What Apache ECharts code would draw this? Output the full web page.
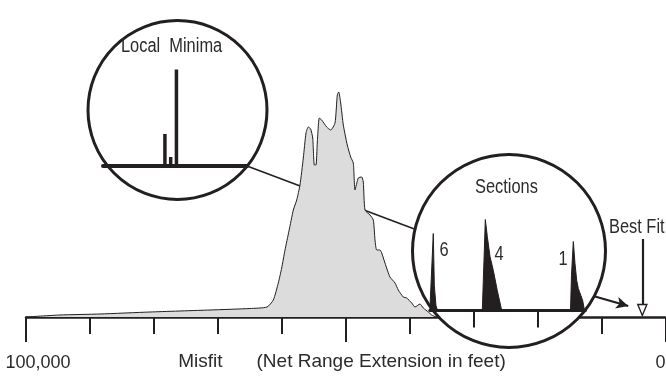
<!DOCTYPE html>
<html>
<head>
<meta charset="utf-8">
<script src="https://cdn.jsdelivr.net/npm/echarts@6/dist/echarts.min.js"></script>
<style>
  html, body { margin: 0; padding: 0; background: #fff; }
  #chart { width: 666px; height: 377px; }
</style>
</head>
<body>
<div id="chart"></div>
<script>
// main misfit distribution (misfit in feet, relative count)
const misfit = [100000, 94690, 88440, 80630, 71250, 65000, 62340, 61360, 60580, 60050, 59530,
  58910, 58230, 57700, 57190, 56670, 56250, 55890, 55520, 55200, 54950, 54690, 54480, 54170,
  53800, 53020, 52390, 51720, 51360, 51140, 50830, 50420, 49800, 49270, 48860, 48590, 48080,
  47550, 47300, 47030, 46250, 45730, 45470, 45200, 44690, 44420, 43910, 43130, 42340, 41830,
  41050, 40520, 39730, 39220, 38440, 37920, 37140, 36610, 35940];
const count = [0, 2, 3, 5, 7, 8.5, 10, 17, 34, 49, 67,
  86, 107, 117, 132, 159, 184, 190, 188, 179, 152, 152, 175, 199,
  197, 190, 187, 194, 222, 225, 214, 192, 172, 160, 154, 127, 139,
  140, 135, 107, 102, 97, 77, 67, 67, 64, 54, 40, 34, 27,
  20, 19, 14, 10, 13, 9, 5, 2, 0];

// "Local Minima" inset
const minimaPos = [43, 47, 51];
const minimaDepth = [31.5, 8.5, 96];

// "Sections" inset
const sectionMisfit = [36900, 36640, 36360, 36200, 35940, 35700,
  28700, 28440, 28230, 27920, 27500, 26980, 26360, 25670,
  14920, 14770, 14480, 14220, 13950, 13700, 13440, 13020, 12730, 12600];
const sectionCount = [0, 0, 77, 25, 5, 0,
  0, 50, 91, 74, 54, 40, 20, 0,
  0, 35, 69, 47, 30, 22, 20, 10, 0, 0];
const sectionTicks = [30000, 20000];

const bestFit = 3700;
const axisLabels = { 100000: '{l|100,000}', 0: '{r|0}' };

const INK = '#231f20';
const TXT = '#2b2b2b';
const FONT = '"Liberation Sans", Arial, sans-serif';

const chart = echarts.init(document.getElementById('chart'), null, { renderer: 'canvas' });

// narrow lettering: Liberation Sans squeezed to Arial Narrow proportions
const text = (x, y, s) => ({
  type: 'text', z: 12, x, y, scaleX: 0.82,
  style: { text: s, fill: TXT, font: '20px ' + FONT, textAlign: 'left', textVerticalAlign: 'middle' },
});

chart.setOption({
  animation: false,
  grid: [
    { left: 26, right: 0, top: 17, bottom: 60, outerBoundsMode: 'none' },
    { left: 103, right: 419, top: 65.5, bottom: 211.5, outerBoundsMode: 'none' },
    { left: 429.84, right: 80.64, top: 210.5, bottom: 66.5, outerBoundsMode: 'none' },
  ],
  xAxis: [
    {
      type: 'value', gridIndex: 0, min: 0, max: 100000, interval: 50000, inverse: true,
      axisLine: { lineStyle: { color: INK, width: 2.5 } },
      axisTick: { length: 25, lineStyle: { color: INK, width: 2 } },
      minorTick: { show: true, splitNumber: 5, length: 17, lineStyle: { color: INK, width: 2 } },
      splitLine: { show: false },
      axisLabel: {
        margin: 37, color: TXT, fontFamily: FONT, fontSize: 18,
        formatter: (v) => axisLabels[v] || '',
        rich: {
          l: { fontFamily: FONT, fontSize: 18, color: TXT, lineHeight: 18, padding: [0, 0, 0, 24] },
          r: { fontFamily: FONT, fontSize: 18, color: TXT, lineHeight: 18, padding: [0, 11, 0, 0] },
        },
      },
      name: '{a|Misfit}{b|(Net Range Extension in feet)}',
      nameLocation: 'middle',
      nameGap: 35,
      nameMoveOverlap: false,
      nameTextStyle: {
        rich: {
          a: { fontFamily: FONT, fontSize: 19, color: TXT, lineHeight: 20 },
          b: { fontFamily: FONT, fontSize: 19, color: TXT, lineHeight: 20, padding: [0, 8, 0, 34] },
        },
      },
    },
    {
      type: 'value', gridIndex: 1, min: 0, max: 100, z: 8,
      axisLine: { lineStyle: { color: INK, width: 4 } },
      axisTick: { show: false }, axisLabel: { show: false }, splitLine: { show: false },
    },
    {
      type: 'value', gridIndex: 2, min: 12600, max: 36900, inverse: true, z: 8,
      axisLine: { lineStyle: { color: INK, width: 3 } },
      axisTick: { show: true, customValues: sectionTicks, length: 17, lineStyle: { color: INK, width: 2 } },
      axisLabel: { show: false }, splitLine: { show: false },
    },
  ],
  yAxis: [
    { type: 'value', gridIndex: 0, min: 0, max: 300, show: false },
    { type: 'value', gridIndex: 1, min: 0, max: 100, show: false },
    { type: 'value', gridIndex: 2, min: 0, max: 100, show: false },
  ],
  series: [
    {
      type: 'line', xAxisIndex: 0, yAxisIndex: 0, z: 2,
      data: misfit.map((m, i) => [m, count[i]]),
      showSymbol: false, smooth: 0.2,
      lineStyle: { color: INK, width: 1 },
      areaStyle: { color: '#dcdcdc', opacity: 1 },
      markLine: {
        silent: true, symbol: 'none', label: { show: false },
        data: [
          [{ coord: [bestFit, 78] }, { coord: [bestFit, 12] }],
          [{ coord: [11090, 20.5], symbol: 'none' }, { coord: [5900, 11], symbol: 'arrow', symbolSize: [9, 12] }],
        ],
        lineStyle: { color: INK, width: 2.2, type: 'solid' },
      },
      markPoint: {
        silent: true, label: { show: false },
        data: [{ coord: [bestFit, 7], symbol: 'triangle', symbolRotate: 180, symbolSize: [9, 11],
          itemStyle: { color: '#fff', borderColor: INK, borderWidth: 1.5 } }],
      },
    },
    {
      type: 'bar', xAxisIndex: 1, yAxisIndex: 1, z: 9, barWidth: 3.5,
      data: minimaPos.map((p, i) => [p, minimaDepth[i]]),
      itemStyle: { color: INK },
    },
    {
      type: 'line', xAxisIndex: 2, yAxisIndex: 2, z: 9,
      data: sectionMisfit.map((m, i) => [m, sectionCount[i]]),
      showSymbol: false,
      lineStyle: { color: INK, width: 1 },
      areaStyle: { color: INK, opacity: 1 },
    },
  ],
  graphic: [
    { type: 'line', z: 1, shape: { x1: 247, y1: 166, x2: 417, y2: 230 }, style: { stroke: INK, lineWidth: 1.5 } },
    { type: 'circle', z: 6, shape: { cx: 177.5, cy: 110, r: 89.5 }, style: { fill: '#fff' } },
    { type: 'circle', z: 6, shape: { cx: 509, cy: 251, r: 96.5 }, style: { fill: '#fff' } },
    { type: 'circle', z: 11, shape: { cx: 177.5, cy: 110, r: 89.5 }, style: { fill: 'none', stroke: INK, lineWidth: 3 } },
    { type: 'circle', z: 11, shape: { cx: 509, cy: 251, r: 96.5 }, style: { fill: 'none', stroke: INK, lineWidth: 3 } },
    text(121, 46, 'Local  Minima'),
    text(475, 187, 'Sections'),
    text(439.5, 250.5, '6'),
    text(494.5, 254, '4'),
    text(558.5, 259, '1'),
    text(609, 227, 'Best Fit'),
  ],
});
</script>
</body>
</html>
